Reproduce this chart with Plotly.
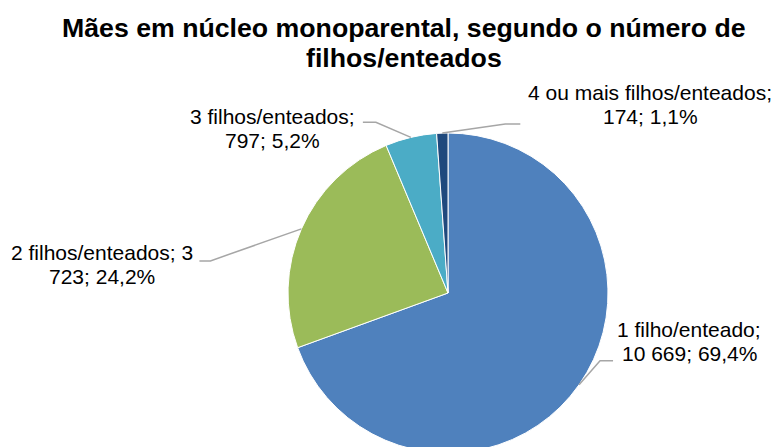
import math
import plotly.graph_objects as go

# ---- data ----
categories = ["1 filho/enteado", "2 filhos/enteados", "3 filhos/enteados", "4 ou mais filhos/enteados"]
values = [10669, 3723, 797, 174]
label_lines = [
    ["1 filho/enteado;", "10 669; 69,4%"],
    ["2 filhos/enteados; 3", "723; 24,2%"],
    ["3 filhos/enteados;", "797; 5,2%"],
    ["4 ou mais filhos/enteados;", "174; 1,1%"],
]
colors = ["#4F81BD", "#9BBB59", "#4BACC6", "#1F497D"]
title_lines = ["Mães em núcleo monoparental, segundo o número de", "filhos/enteados"]

# ---- layout constants (pixels) ----
# figure is slightly taller than the 447px window so the pie's bottom is cut, as in the reference
W, H = 775, 455
CX, CY, R = 448, 293, 160
# leader elbow offsets from slice edge, horizontal tail length (signed), text centre offsets from tail end
elbow_off = [(21, -24), (-91, 32), (-35, -15), (63, -9)]
tail = [13, -11, -13, 15]
text_off = [(76, -19), (-97, 4), (-90, 6), (130, -20)]
LINE_GAP = 24
FONT = "Liberation Sans, Arial, sans-serif"

def px(x):
    return x / W

def py(y):
    return 1 - y / H

fig = go.Figure()
fig.add_trace(go.Pie(
    labels=categories, values=values, sort=False, direction="clockwise", rotation=0,
    marker=dict(colors=colors, line=dict(color="white", width=1)),
    textinfo="none", hoverinfo="label+value+percent", showlegend=False,
    domain=dict(x=[px(CX - R), px(CX + R)], y=[py(CY + R), py(CY - R)]),
))

shapes, annotations = [], []
total = sum(values)
cum = 0.0
for i, v in enumerate(values):
    mid = cum + v / 2
    cum += v
    ang = math.radians(90 - 360 * mid / total)
    ex, ey = CX + R * math.cos(ang), CY - R * math.sin(ang)
    bx, by = ex + elbow_off[i][0], ey + elbow_off[i][1]
    tx = bx + tail[i]
    path = f"M {px(ex)},{py(ey)} L {px(bx)},{py(by)} L {px(tx)},{py(by)}"
    shapes.append(dict(type="path", xref="paper", yref="paper", path=path,
                       line=dict(color="#A6A6A6", width=1.5)))
    lx, ly = tx + text_off[i][0], by + text_off[i][1]
    for j, line in enumerate(label_lines[i]):
        annotations.append(dict(
            x=px(lx), y=py(ly - LINE_GAP / 2 + j * LINE_GAP), xref="paper", yref="paper",
            text=line, showarrow=False, xanchor="center", yanchor="middle",
            font=dict(family=FONT, size=21, color="#000000")))

for j, t in enumerate(title_lines):
    annotations.append(dict(
        x=px(404), y=py(28 + j * 30), xref="paper", yref="paper", text=f"<b>{t}</b>",
        showarrow=False, xanchor="center", yanchor="middle",
        font=dict(family=FONT, size=26.7, color="#000000")))

fig.update_layout(
    width=W, height=H, margin=dict(l=0, r=0, t=0, b=0),
    paper_bgcolor="white", plot_bgcolor="white",
    shapes=shapes, annotations=annotations,
)
fig.write_html(
    "out.html",
    config={"displayModeBar": False},
    post_script="document.body.style.margin='0';document.body.style.overflow='hidden';",
)
